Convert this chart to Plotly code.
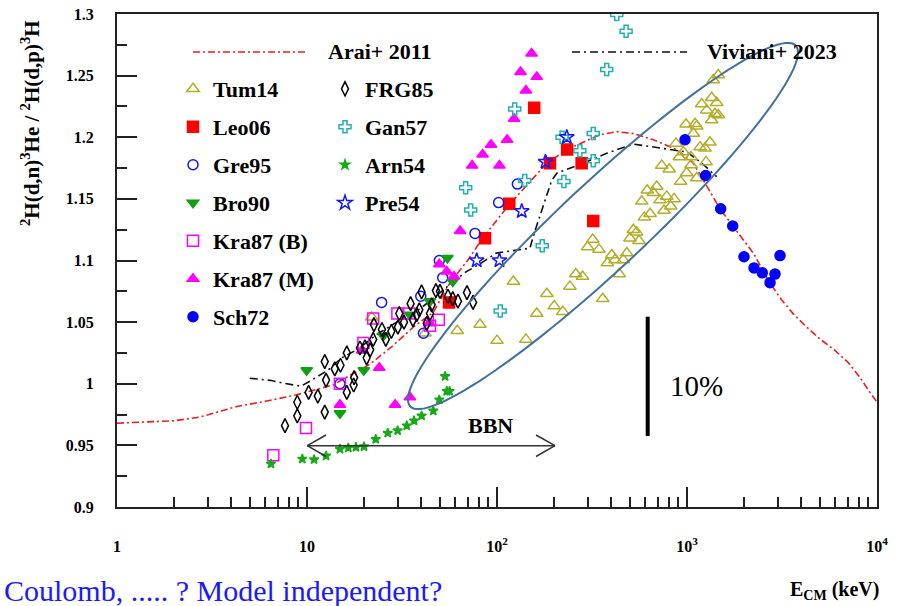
import numpy as np
import plotly.graph_objects as go

# ---------------- data (E_CM in keV, ratio) ----------------
arai_x = [1, 2, 2.73, 4.27, 6.14, 8.8, 13.7, 21.5, 27.9, 36.3, 46.2, 56.6, 70, 84.7, 117, 152, 183, 233,
          348, 427, 522, 665, 883, 1080, 1270, 1492, 1753, 2234, 2735, 3150, 3625, 4266, 5005, 5957,
          7060, 8070, 9190, 10000]
arai_y = [0.968, 0.970, 0.973, 0.9815, 0.986, 0.991, 0.999, 1.016, 1.030, 1.046, 1.058, 1.082, 1.100,
          1.119, 1.146, 1.165, 1.179, 1.190, 1.202, 1.2045, 1.203, 1.198, 1.190, 1.179, 1.160, 1.142,
          1.1275, 1.106, 1.0816, 1.068, 1.0567, 1.046, 1.0364, 1.0275, 1.0172, 1.0058, 0.993, 0.985]

viv_x = [5.0, 6.5, 7.5, 9.3, 10.6, 12.9, 15.2, 18.5, 23.3, 29.7, 36.3, 44.4, 58.9, 69, 81, 99, 149, 158,
         194, 207, 285, 378, 522, 665, 780, 1000, 1195, 1433]
viv_y = [1.0045, 1.0026, 1.0005, 0.998, 1.003, 1.011, 1.021, 1.028, 1.040, 1.050, 1.057, 1.067, 1.083,
         1.091, 1.097, 1.106, 1.110, 1.1235, 1.165, 1.171, 1.179, 1.187, 1.1945, 1.192, 1.190, 1.188,
         1.179, 1.168]

tum14_x = [1461, 1375, 1349, 1195, 1433, 1270, 1403, 1461, 1349, 988, 1102, 1125, 1080, 1321, 875, 1171,
           1244, 957, 1050, 911, 1259, 1050, 736, 807, 996, 926, 1125, 618, 693, 665, 578, 721, 782, 855,
           821, 757, 639, 596, 522, 543, 501, 559, 319, 300, 344, 402, 381, 418, 482, 462, 440, 260, 282,
           242, 360, 183, 122, 200, 222, 162, 81.4, 61.8, 100, 142, 21.9, 41.8]
tum14_y = [1.2505, 1.2465, 1.232, 1.227, 1.228, 1.222, 1.219, 1.218, 1.214, 1.2105, 1.211, 1.209, 1.203,
           1.196, 1.195, 1.192, 1.191, 1.188, 1.184, 1.184, 1.180, 1.1775, 1.177, 1.174, 1.171, 1.164,
           1.167, 1.157, 1.160, 1.155, 1.148, 1.149, 1.152, 1.150, 1.144, 1.1405, 1.138, 1.135, 1.125,
           1.123, 1.118, 1.116, 1.117, 1.111, 1.109, 1.1045, 1.098, 1.1005, 1.106, 1.1005, 1.089, 1.089,
           1.087, 1.079, 1.069, 1.073, 1.083, 1.063, 1.0585, 1.057, 1.048, 1.043, 1.035, 1.036, 1.054,
           1.041]

leo06_x = [157, 234, 190, 279, 116, 86.5, 321, 55.9]
leo06_y = [1.224, 1.190, 1.179, 1.179, 1.146, 1.118, 1.132, 1.066]

gre95_x = [128, 102, 76.6, 49.7, 51.8, 39.7, 24.7, 41.0, 14.9]
gre95_y = [1.162, 1.147, 1.122, 1.100, 1.086, 1.071, 1.066, 1.041, 1.000]

bro90_x = [54.8, 58.5, 44.4, 34.8, 25.2, 19.9, 9.96, 14.9]
bro90_y = [1.102, 1.083, 1.067, 1.056, 1.039, 1.011, 1.011, 0.976]

kra87b_x = [6.65, 9.88, 14.9, 19.8, 22.3, 29.9, 34.5, 44.4, 49.4]
kra87b_y = [0.942, 0.964, 1.000, 1.033, 1.053, 1.057, 1.057, 1.047, 1.052]

kra87m_x = [152, 133, 162, 142, 123, 113, 93, 84, 74, 103, 64, 49.7, 54.4, 59.4, 19.5, 24.0, 14.9,
            29.1, 34.8, 44.0]
kra87m_y = [1.268, 1.253, 1.249, 1.238, 1.215, 1.198, 1.194, 1.186, 1.177, 1.177, 1.124, 1.097, 1.091,
            1.087, 1.027, 1.013, 0.983, 0.983, 0.989, 1.049]

sch72_x = [976, 1254, 1504, 1740, 1995, 2253, 2490, 2735, 2905, 3087]
sch72_y = [1.198, 1.169, 1.142, 1.128, 1.103, 1.094, 1.090, 1.082, 1.089, 1.104]

frg85_x = [7.66, 8.89, 8.89, 10.2, 11.4, 12.4, 12.6, 12.4, 14.0, 15.0, 16.2, 17.6, 17.7, 16.2, 19.0,
           20.2, 21.5, 22.3, 22.5, 24.8, 27.8, 30.1, 30.6, 32.4, 35.1, 36.1, 37.8, 39.0, 40.1, 42.7,
           44.4, 45.3, 47.7, 50.1, 55.2, 58.5, 62.3, 69.5, 74.8, 20.6, 26.0]
frg85_y = [0.966, 0.974, 0.985, 0.993, 0.990, 0.977, 1.003, 1.018, 1.012, 1.015, 0.993, 0.999, 1.005,
           1.025, 1.029, 1.030, 1.0275, 1.036, 1.048, 1.044, 1.0425, 1.046, 1.057, 1.050, 1.065, 1.052,
           1.056, 1.060, 1.0745, 1.049, 1.057, 1.064, 1.0756, 1.075, 1.071, 1.069, 1.067, 1.074, 1.066,
           1.021, 1.036]

gan57_x = [427, 478, 378, 124, 68.4, 72.7, 140, 220, 321, 273, 321, 225, 173, 104]
gan57_y = [1.2995, 1.286, 1.255, 1.223, 1.159, 1.141, 1.165, 1.200, 1.203, 1.189, 1.181, 1.164, 1.112, 1.059]

arn54_x = [6.46, 9.45, 10.9, 12.6, 14.9, 16.5, 18.1, 19.95, 23.0, 26.6, 30.0, 33.5, 36.6, 40.1, 46.2,
           49.7, 54.4, 56.3, 53.3]
arn54_y = [0.935, 0.939, 0.9385, 0.9415, 0.947, 0.948, 0.9485, 0.949, 0.955, 0.960, 0.962, 0.966, 0.970,
           0.974, 0.978, 0.987, 0.994, 0.994, 1.006]

pre54_x = [233, 180, 135, 78.2, 103]
pre54_y = [1.200, 1.180, 1.140, 1.100, 1.100]

x_tickvals = [1, 10, 100, 1000, 10000]
x_ticktext = ["1", "10", "10<sup>2</sup>", "10<sup>3</sup>", "10<sup>4</sup>"]
y_tickvals = [0.9, 0.95, 1.0, 1.05, 1.1, 1.15, 1.2, 1.25, 1.3]
y_ticktext = ["0.9", "0.95", "1", "1.05", "1.1", "1.15", "1.2", "1.25", "1.3"]

# ---------------- layout helpers ----------------
FONT = "Liberation Serif, Times New Roman, serif"
W, H = 906, 606
ML, MR, MT, MB = 117, 29, 14, 99
PW, PH = W - ML - MR, H - MT - MB


def pp(px, py):
    """pixel position in the figure -> paper coordinates"""
    return (px - ML) / PW, (H - MB - py) / PH


fig = go.Figure()

fig.add_trace(go.Scatter(x=arai_x, y=arai_y, mode="lines", showlegend=False, hoverinfo="skip",
                         line=dict(color="#ee1c1c", width=1.6, dash="7px,3px,2px,3px")))
fig.add_trace(go.Scatter(x=viv_x, y=viv_y, mode="lines", showlegend=False, hoverinfo="skip",
                         line=dict(color="#111111", width=1.6, dash="8px,4px,2px,4px")))

series = [
    ("Tum14", tum14_x, tum14_y, "triangle-up-open", "#b3ae2a", 11, "legend"),
    ("Leo06", leo06_x, leo06_y, "square", "#ff0000", 11, "legend"),
    ("Gre95", gre95_x, gre95_y, "circle-open", "#1414ff", 10, "legend"),
    ("Bro90", bro90_x, bro90_y, "triangle-down", "#10a010", 10, "legend"),
    ("Kra87 (B)", kra87b_x, kra87b_y, "square-open", "#ff00ff", 11, "legend"),
    ("Kra87 (M)", kra87m_x, kra87m_y, "triangle-up", "#ff00ff", 10, "legend"),
    ("Sch72", sch72_x, sch72_y, "circle", "#0000ff", 10, "legend"),
    ("FRG85", frg85_x, frg85_y, "diamond-tall-open", "#000000", 10, "legend2"),
    ("Gan57", gan57_x, gan57_y, "cross-open", "#22b0b0", 10, "legend2"),
    ("Arn54", arn54_x, arn54_y, "star", "#18aa18", 7, "legend2"),
    ("Pre54", pre54_x, pre54_y, "star-open", "#1414ff", 11, "legend2"),
]
for name, xs, ys, sym, col, sz, lg in series:
    fig.add_trace(go.Scatter(
        x=xs, y=ys, mode="markers", name=name, legend=lg, legendgroup=name,
        marker=dict(symbol=sym, color=col, size=sz, line=dict(color=col, width=1.5)),
    ))

# ellipse (decoration) in pixel space -> paper
cx, cy, a, b, th = 603, 226, 264, 43, np.radians(43.1)
t = np.linspace(0, 2 * np.pi, 121)
ex = cx + a * np.cos(t) * np.cos(th) - b * np.sin(t) * np.sin(th)
ey = cy - (a * np.cos(t) * np.sin(th) + b * np.sin(t) * np.cos(th))
pts = [pp(u, v) for u, v in zip(ex, ey)]
path = "M " + " L ".join(f"{u:.5f},{v:.5f}" for u, v in pts) + " Z"

shapes = [dict(type="path", path=path, xref="paper", yref="paper",
               line=dict(color="#41719c", width=2), fillcolor="rgba(0,0,0,0)")]


def seg(p0, p1, color, width, dash="solid"):
    x0, y0 = pp(*p0)
    x1, y1 = pp(*p1)
    return dict(type="line", xref="paper", yref="paper", x0=x0, y0=y0, x1=x1, y1=y1,
                line=dict(color=color, width=width, dash=dash))


# BBN arrow
ay = 445.7
shapes += [seg((307.3, ay), (555, ay), "#333333", 1.5),
           seg((307.3, ay), (326, 435), "#333333", 1.5),
           seg((307.3, ay), (326, 456.5), "#333333", 1.5),
           seg((555, ay), (536, 435), "#333333", 1.5),
           seg((555, ay), (536, 456.5), "#333333", 1.5)]
# 10% bar
shapes.append(seg((647.7, 316.7), (647.7, 436), "#000000", 4))
# line-legend keys
shapes.append(seg((193, 52), (307, 52), "#ee1c1c", 1.6, "7px,3px,2px,3px"))
shapes.append(seg((572, 52), (687, 52), "#111111", 1.6, "8px,4px,2px,4px"))


def ann(px, py, text, size, bold=True, xanchor="center", color="black", angle=0):
    x, y = pp(px, py)
    return dict(x=x, y=y, xref="paper", yref="paper", text=text, showarrow=False,
                xanchor=xanchor, yanchor="middle", textangle=angle,
                font=dict(family=FONT, size=size, color=color, weight="bold" if bold else "normal"))


annotations = [
    ann(326, 52, "Arai+ 2011", 22, xanchor="left"),
    ann(705, 52, "Viviani+ 2023", 22, xanchor="left"),
    ann(490, 426, "BBN", 22),
    ann(696, 386, "10%", 29, bold=False),
    ann(30, 123, "<sup>2</sup>H(d,n)<sup>3</sup>He / <sup>2</sup>H(d,p)<sup>3</sup>H", 21, angle=-90),
    ann(2, 590, "Coulomb, ..... ? Model independent?", 30, bold=False, xanchor="left", color="#1a1aff"),
    ann(881, 590, "E<sub>CM</sub> (keV)", 20, xanchor="right"),
]

minor_x = [m * 10 ** d for d in range(4) for m in range(2, 10)]
minor_y = [0.925, 0.975, 1.025, 1.075, 1.125, 1.175, 1.225, 1.275]

axis_common = dict(ticks="inside", ticklen=20, tickwidth=1.5, tickcolor="#222222", showline=True,
                   linewidth=2, linecolor="#222222", mirror=True, showgrid=False, zeroline=False,
                   automargin=False,
                   tickfont=dict(family=FONT, size=16, color="black", weight="bold"))

legend_common = dict(xanchor="left", yanchor="top", bgcolor="rgba(0,0,0,0)", traceorder="grouped",
                     tracegroupgap=6.4, itemsizing="trace",
                     font=dict(family=FONT, size=22, color="black", weight="bold"))

fig.update_layout(
    width=W, height=H, margin=dict(l=ML, r=MR, t=MT, b=MB, autoexpand=False),
    paper_bgcolor="white", plot_bgcolor="white",
    xaxis=dict(type="log", range=[0, 4], tickvals=x_tickvals, ticktext=x_ticktext,
               ticklabelstandoff=24,
               minor=dict(tickvals=minor_x, ticks="inside", ticklen=10, tickwidth=1.5,
                          tickcolor="#222222", showgrid=False), **axis_common),
    yaxis=dict(range=[0.9, 1.3], tickvals=y_tickvals, ticktext=y_ticktext, ticklabelstandoff=18,
               minor=dict(tickvals=minor_y, ticks="inside", ticklen=10, tickwidth=1.5,
                          tickcolor="#222222", showgrid=False), **axis_common),
    legend=dict(x=pp(173, 0)[0], y=pp(0, 68)[1], **legend_common),
    legend2=dict(x=pp(325, 0)[0], y=pp(0, 68)[1], **legend_common),
    shapes=shapes, annotations=annotations, showlegend=True,
)

fig.write_html("out.html")
